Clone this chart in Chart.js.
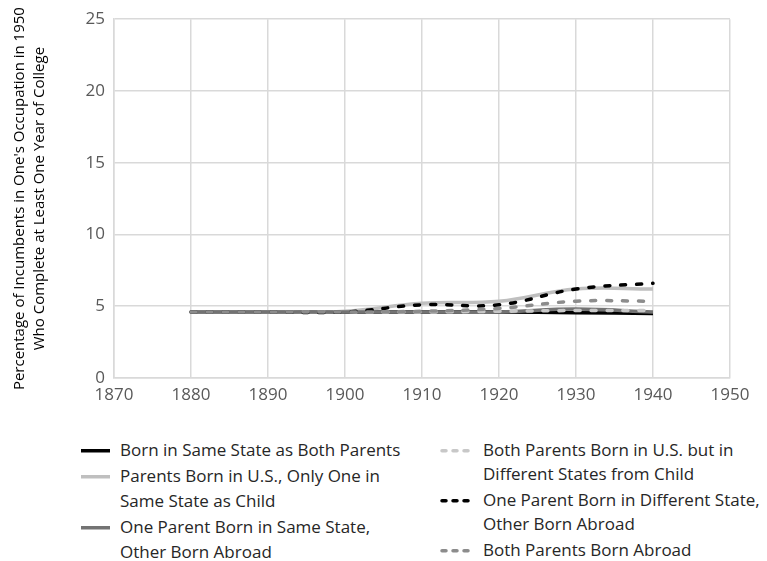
<!DOCTYPE html>
<html>
<head>
<meta charset="utf-8">
<script src="https://cdn.jsdelivr.net/npm/chart.js@4"></script>
<style>
  body { margin: 0; background: #fff; font-family: "Open Sans", sans-serif; position: relative; width: 767px; height: 561px; overflow: hidden; }
  #wrap { position: absolute; left: 0; top: 0; width: 767px; height: 425px; }
  .col { position: absolute; font-size: 17px; color: #262626; white-space: nowrap; }
  .item { display: flex; align-items: flex-start; }
  .item svg { flex: none; }
  #col1 { left: 81px; top: 437px; line-height: 25.5px; }
  #col2 { left: 440px; top: 438px; line-height: 23.5px; }
  #col2 .item { margin-bottom: 3px; }
</style>
</head>
<body>
<div id="wrap"><canvas id="myChart"></canvas></div>
<div class="col" id="col1"></div>
<div class="col" id="col2"></div>
<script>
var years = [1880, 1890, 1900, 1910, 1920, 1930, 1940];
var seriesNames = [
  'Born in Same State as Both Parents',
  'Parents Born in U.S., Only One in Same State as Child',
  'One Parent Born in Same State, Other Born Abroad',
  'Both Parents Born in U.S. but in Different States from Child',
  'One Parent Born in Different State, Other Born Abroad',
  'Both Parents Born Abroad'
];
var bornSameState = [4.6, 4.6, 4.6, 4.6, 4.6, 4.55, 4.5];
var parentsUSOneSame = [4.6, 4.6, 4.65, 5.2, 5.35, 6.2, 6.2];
var oneSameOtherAbroad = [4.6, 4.6, 4.6, 4.6, 4.6, 4.8, 4.6];
var bothUSDiffStates = [4.6, 4.6, 4.6, 4.6, 4.65, 4.7, 4.7];
var oneDiffOtherAbroad = [4.6, 4.6, 4.6, 5.1, 5.1, 6.2, 6.6];
var bothAbroad = [4.6, 4.6, 4.6, 4.65, 4.85, 5.35, 5.35];
var yTicks = [0, 5, 10, 15, 20, 25];

var allValues = [bornSameState, parentsUSOneSame, oneSameOtherAbroad, bothUSDiffStates, oneDiffOtherAbroad, bothAbroad];
var colors = ['#000000', '#bfbfbf', '#737373', '#c8c8c8', '#000000', '#8c8c8c'];
var dashed = [false, false, false, true, true, true];
var legendText = [
  ['Born in Same State as Both Parents'],
  ['Parents Born in U.S., Only One in', 'Same State as Child'],
  ['One Parent Born in Same State,', 'Other Born Abroad'],
  ['Both Parents Born in U.S. but in', 'Different States from Child'],
  ['One Parent Born in Different State,', 'Other Born Abroad'],
  ['Both Parents Born Abroad']
];

var datasets = allValues.map(function (vals, i) {
  return {
    label: seriesNames[i],
    data: vals.map(function (v, j) { return { x: years[j], y: v }; }),
    borderColor: colors[i],
    backgroundColor: colors[i],
    borderWidth: 3.5,
    borderDash: dashed[i] ? [5, 11] : [],
    borderCapStyle: dashed[i] ? 'round' : 'butt',
    pointRadius: 0,
    tension: 0.4,
    fill: false,
    order: 6 - i   // later series drawn on top, as in the original
  };
});

var ctx = document.getElementById('myChart').getContext('2d');
var chart = new Chart(ctx, {
  type: 'line',
  data: { datasets: datasets },
  options: {
    responsive: true,
    maintainAspectRatio: false,
    animation: false,
    layout: { padding: { top: 14, right: 37, left: 0, bottom: 12.6 } },
    plugins: { legend: { display: false }, tooltip: { enabled: false } },
    scales: {
      x: {
        type: 'linear',
        min: 1870, max: 1950,
        ticks: { stepSize: 10, color: '#595959', font: { family: 'Open Sans', size: 17 }, padding: 7,
                 callback: function (v) { return String(v); } },
        grid: { color: '#d9d9d9', lineWidth: 1.5, drawTicks: false },
        border: { color: '#d9d9d9', width: 1.5 }
      },
      y: {
        min: 0, max: 25,
        afterBuildTicks: function (axis) { axis.ticks = yTicks.map(function (v) { return { value: v }; }); },
        ticks: { color: '#595959', font: { family: 'Open Sans', size: 17 }, padding: 9 },
        grid: { color: '#d9d9d9', lineWidth: 1.5, drawTicks: false },
        border: { color: '#d9d9d9', width: 1.5 },
        title: {
          display: true,
          text: ["Percentage of Incumbents in One's Occupation in 1950", 'Who Complete at Least One Year of College'],
          color: '#000',
          font: { family: 'Open Sans', size: 15, lineHeight: 1.333 },
          padding: { top: 10, bottom: 26.6 }
        }
      }
    }
  }
});

// two-column legend built from the same series
function sample(i, lh) {
  var mid = lh / 2 + 1;
  var line = dashed[i]
    ? '<line x1="2" y1="' + mid + '" x2="31" y2="' + mid + '" stroke="' + colors[i] + '" stroke-width="3.5" stroke-dasharray="4 7" stroke-linecap="round"/>'
    : '<line x1="0" y1="' + mid + '" x2="29" y2="' + mid + '" stroke="' + colors[i] + '" stroke-width="3.5"/>';
  return '<svg width="' + (dashed[i] ? 43 : 39) + '" height="' + lh + '">' + line + '</svg>';
}
[0, 1, 2].forEach(function (i) {
  document.getElementById('col1').innerHTML += '<div class="item">' + sample(i, 25.5) + '<div>' + legendText[i].join('<br>') + '</div></div>';
});
[3, 4, 5].forEach(function (i) {
  document.getElementById('col2').innerHTML += '<div class="item">' + sample(i, 23.5) + '<div>' + legendText[i].join('<br>') + '</div></div>';
});
</script>
</body>
</html>
